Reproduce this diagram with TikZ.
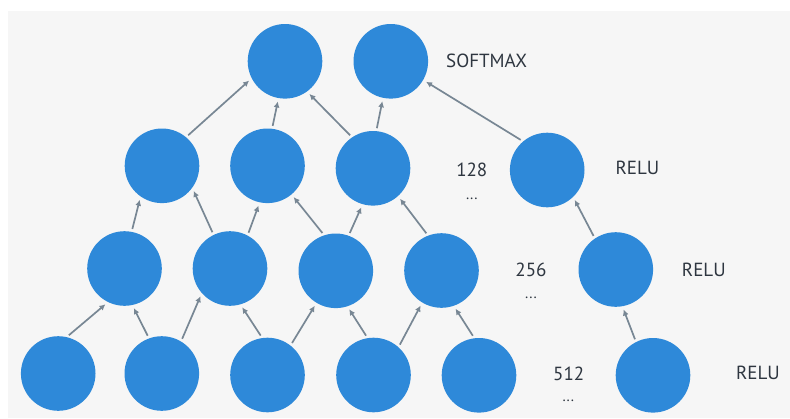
\documentclass[tikz,border=0pt]{standalone}
\usepackage{fontspec}
\setmainfont{PT Sans}
\usetikzlibrary{arrows.meta}
\definecolor{colorUnit}{rgb}{0.18,0.537,0.851}
\definecolor{colorLink}{rgb}{0.47,0.53,0.58}
\definecolor{colorText}{rgb}{0.18,0.21,0.25}
\definecolor{colorPanel}{rgb}{0.965,0.965,0.965}
\tikzset{
	unit/.style={circle, fill=colorUnit, minimum size=74.6pt, inner sep=0pt, outer sep=0pt},
	link/.style={colorLink, line width=1.7pt, -{Latex[length=6pt,width=6pt]}, shorten <=3pt, shorten >=3.5pt},
	tag/.style={colorText, font=\fontsize{19}{22}\selectfont, inner sep=0pt},
	etc/.style={colorText, font=\fontsize{15}{18}\selectfont, inner sep=0pt},
}

\begin{document}
\begin{tikzpicture}[x=1pt,y=-1pt]
		\useasboundingbox (0,0) rectangle (790,418);
		\fill[white] (0,0) rectangle (790,418);
		\fill[colorPanel] (8,11) rectangle (790,418);
		%
		\node[unit] (u-1-1) at (285,61.3) {};
		\node[unit] (u-1-2) at (390.8,61.3) {};
		%
		\node[unit] (u-2-1) at (162,165.8) {};
		\node[unit] (u-2-2) at (267.5,165.8) {};
		\node[unit] (u-2-3) at (373,168.3) {};
		\node[unit] (u-2-4) at (547.2,170) {};
		%
		\node[unit] (u-3-1) at (124.5,268.5) {};
		\node[unit] (u-3-2) at (230,268.5) {};
		\node[unit] (u-3-3) at (335.8,270.8) {};
		\node[unit] (u-3-4) at (441.5,270.5) {};
		\node[unit] (u-3-5) at (615.8,269.5) {};
		%
		\node[unit] (u-4-1) at (58.2,373.5) {};
		\node[unit] (u-4-2) at (161.8,373.5) {};
		\node[unit] (u-4-3) at (267.5,375) {};
		\node[unit] (u-4-4) at (373.5,375) {};
		\node[unit] (u-4-5) at (479,375.3) {};
		\node[unit] (u-4-6) at (653,375.3) {};
		%
		\draw[link] (u-4-1.77.7) to (u-3-1.244.4);
		\draw[link] (u-4-2.110.7) to (u-3-1.282.5);
		\draw[link] (u-4-2.59.9) to (u-3-2.221.1);
		\draw[link] (u-4-3.98.4) to (u-3-2.286.6);
		\draw[link] (u-4-3.52.4) to (u-3-3.239.9);
		\draw[link] (u-4-4.99.8) to (u-3-3.288.1);
		\draw[link] (u-4-4.48.5) to (u-3-4.239.3);
		\draw[link] (u-4-5.97.4) to (u-3-4.289.3);
		\draw[link] (u-4-6.117.2) to (u-3-5.280.8);
		%
		\draw[link] (u-3-1.79.8) to (u-2-1.235.6);
		\draw[link] (u-3-2.116.4) to (u-2-1.324.9);
		\draw[link] (u-3-2.62.7) to (u-2-2.258.7);
		\draw[link] (u-3-3.108.2) to (u-2-2.310.8);
		\draw[link] (u-3-3.70.9) to (u-2-3.254.8);
		\draw[link] (u-3-4.111.4) to (u-2-3.312.4);
		\draw[link] (u-3-5.124.6) to (u-2-4.314.5);
		%
		\draw[link] (u-2-1.50.1) to (u-1-1.207.6);
		\draw[link] (u-2-2.83.3) to (u-1-1.260.6);
		\draw[link] (u-2-3.124.1) to (u-1-1.306.6);
		\draw[link] (u-2-3.85.9) to (u-1-2.258.1);
		\draw[link] (u-2-4.130.6) to (u-1-2.330.8);
		%
		\node[tag, anchor=west] (t-1) at (446,61.3) {SOFTMAX};
		\node[tag] (t-2) at (471.8,170) {128};
		\node[etc] (d-2) at (471.8,199) {...};
		\node[tag] (a-2) at (637.5,168.3) {RELU};
		\node[tag] (t-3) at (531,270) {256};
		\node[etc] (d-3) at (531,298) {...};
		\node[tag] (a-3) at (703.8,270) {RELU};
		\node[tag] (t-4) at (568.7,373.7) {512};
		\node[etc] (d-4) at (568.3,401) {...};
		\node[tag] (a-4) at (758,373) {RELU};
	\end{tikzpicture}
\end{document}
